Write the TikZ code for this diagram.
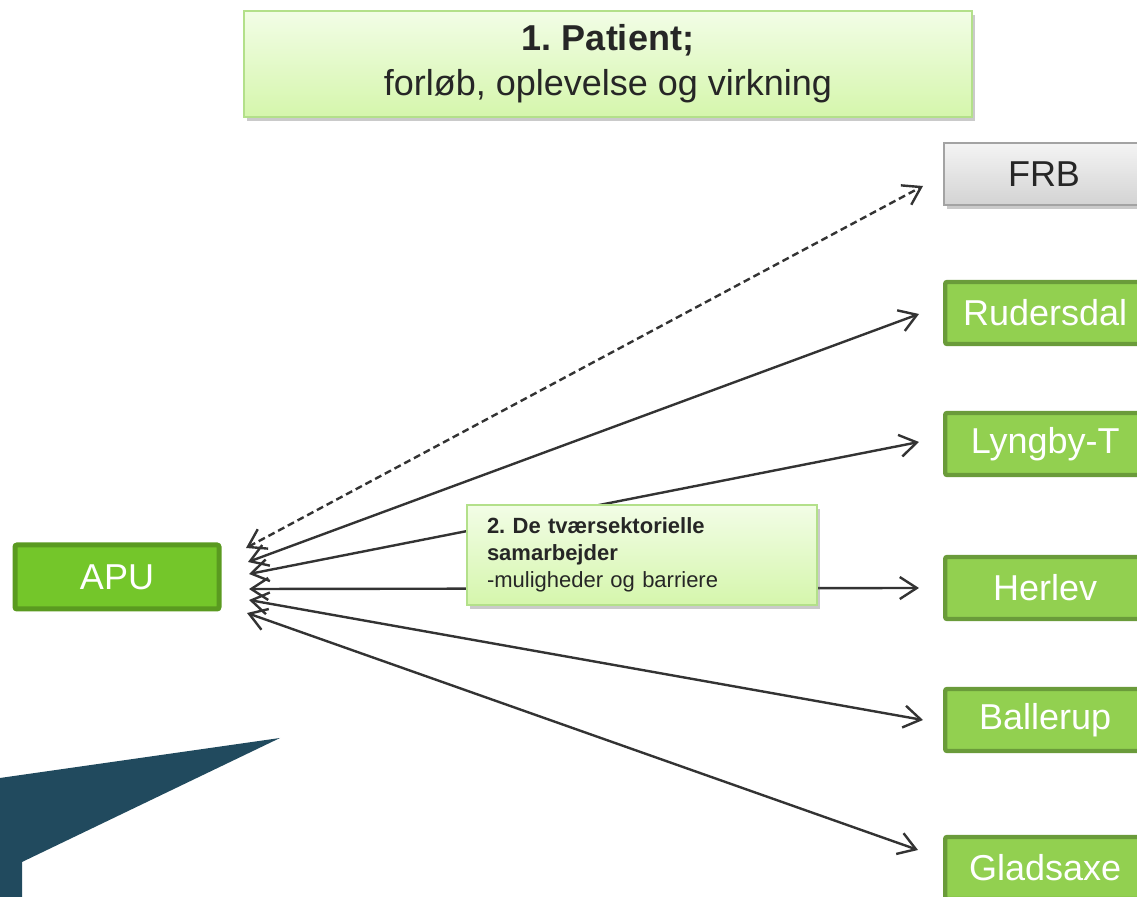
\documentclass[tikz,border=0pt]{standalone}
\usepackage{fontspec}
\setmainfont{Liberation Sans}
\usepackage{tikz}
\usetikzlibrary{arrows.meta,shadows,calc}
\frenchspacing

\definecolor{txtdark}{HTML}{262626}
\definecolor{boxtop}{HTML}{F2FDE6}
\definecolor{boxbot}{HTML}{D5F6AC}
\definecolor{boxedge}{HTML}{B3E08A}
\definecolor{greytop}{HTML}{F4F4F4}
\definecolor{greybot}{HTML}{D3D3D3}
\definecolor{greyedge}{HTML}{A3A3A3}
\definecolor{townfill}{HTML}{92D050}
\definecolor{townedge}{HTML}{6A9B3A}
\definecolor{apufill}{HTML}{74C62A}
\definecolor{apuedge}{HTML}{5A9A20}
\definecolor{wedge}{HTML}{214A5E}
\definecolor{linkcol}{HTML}{333333}

\tikzset{
  boxshadow/.style={drop shadow={shadow xshift=1.5pt, shadow yshift=-2pt, opacity=0.35, fill=black!60}},
  lightbox/.style={draw=boxedge, line width=0.8pt, top color=boxtop, bottom color=boxbot, text=txtdark, boxshadow},
  townbox/.style={draw=townedge, fill=townfill, line width=2.2pt, rounded corners=1pt, text=white,
    font=\fontsize{18}{22}\selectfont, minimum width=100pt, minimum height=31pt, anchor=west},
  link/.style={{Straight Barb[length=8.5pt,width=11pt]}-{Straight Barb[length=8.5pt,width=11pt]}, line width=1.2pt, draw=linkcol}
}

\begin{document}
\begin{tikzpicture}[x=0.5pt,y=-0.5pt]
\useasboundingbox (0,0) rectangle (1137,897);
\clip (0,0) rectangle (1137,897);

% dark wedge bottom left
\fill[wedge] (0,778) -- (280,738) -- (22,862) -- (22,900) -- (0,900) -- cycle;

% boxes
\node[lightbox, minimum width=364pt, minimum height=53pt, align=center,
  font=\fontsize{18}{22.5}\selectfont] (patient) at (608,64) {\textbf{1. Patient;}\\forløb, oplevelse og virkning};

\node[draw=apuedge, fill=apufill, line width=2.5pt, rounded corners=1pt, text=white,
  font=\fontsize{18}{22}\selectfont, minimum width=102pt, minimum height=32pt] (apu) at (117,577) {APU};

\node[townbox, draw=greyedge, line width=1pt, top color=greytop, bottom color=greybot, text=txtdark,
  rounded corners=0pt, boxshadow, minimum height=31pt] (frb) at (943,174) {FRB};
\node[townbox] (rud) at (943,313) {Rudersdal};
\node[townbox] (lyn) at (943,444) {Lyngby-T};
\node[townbox] (her) at (943,588) {Herlev};
\node[townbox] (bal) at (943,720) {Ballerup};
\node[townbox] (gla) at (943,868) {Gladsaxe};

% free ends near APU
\coordinate (e1) at (246,548);
\coordinate (e2) at (248,562);
\coordinate (e3) at (249,574);
\coordinate (e4) at (249,589);
\coordinate (e5) at (249,600);
\coordinate (e6) at (247,613);

% connectors
\draw[link, dash pattern=on 3.5pt off 2pt] (e1) -- ($(frb.west)+(-20,12)$);
\draw[link] (e2) -- ($(rud.west)+(-24,1)$);
\draw[link] (e3) -- ($(lyn.west)+(-24,-2)$);
\draw[link] (e4) -- ($(her.west)+(-24,0)$);
\draw[link] (e5) -- ($(bal.west)+(-20,0)$);
\draw[link] (e6) -- ($(gla.west)+(-25,-18)$);

\node[lightbox, minimum width=175pt, minimum height=50pt, text width=155pt, inner xsep=10pt, align=left,
  font=\fontsize{11}{13.5}\selectfont] (samarb) at (642,555)
  {\textbf{2. De tværsektorielle}\\\textbf{samarbejder}\\-muligheder og barriere};
\end{tikzpicture}
\end{document}
